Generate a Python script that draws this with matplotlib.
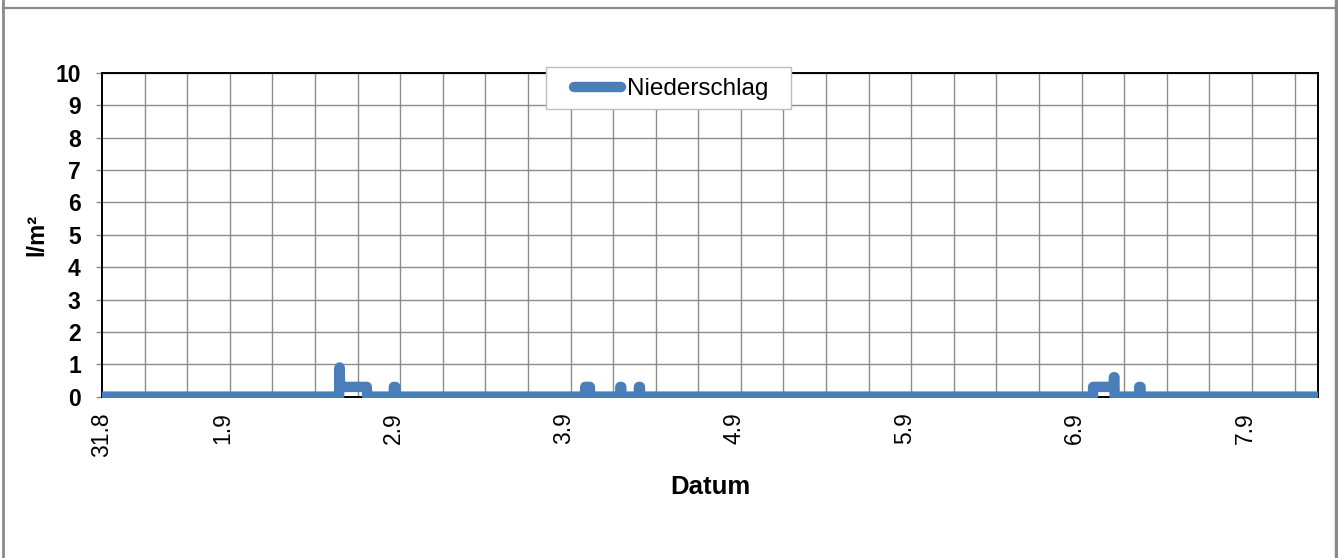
import matplotlib
matplotlib.use("Agg")
import matplotlib.pyplot as plt
from matplotlib.lines import Line2D
from matplotlib.patches import Rectangle
from matplotlib.transforms import Bbox, TransformedBbox

plt.rcParams['font.family'] = ['Liberation Sans', 'DejaVu Sans']

# ---- data (time in hours since 31.8 00:00, precipitation in l/m²) ----
times_h = [7.0,
           40.40, 40.47, 40.55, 44.30, 44.36,
           48.10, 48.12, 48.32, 48.34,
           75.05, 75.07, 75.73, 75.75,
           80.00, 80.02, 80.15, 80.17,
           82.62, 82.64, 82.78, 82.80,
           146.60, 146.62, 149.50, 149.55, 149.62, 149.65,
           153.10, 153.12, 153.30, 153.32,
           178.3]
rain = [0.0,
        0.0, 0.9, 0.3, 0.3, 0.0,
        0.0, 0.3, 0.3, 0.0,
        0.0, 0.3, 0.3, 0.0,
        0.0, 0.3, 0.3, 0.0,
        0.0, 0.3, 0.3, 0.0,
        0.0, 0.3, 0.3, 0.6, 0.6, 0.0,
        0.0, 0.3, 0.3, 0.0,
        0.0]

tick_pos_h = [7, 24, 48, 72, 96, 120, 144, 168]
tick_labels = ["31.8", "1.9", "2.9", "3.9", "4.9", "5.9", "6.9", "7.9"]
series_name = "Niederschlag"
x_title = "Datum"
y_title = "l/m²"

W, H = 1338, 558
fig = plt.figure(figsize=(W / 100, H / 100), dpi=100)
ax = fig.add_axes([102 / W, 1 - 396.6 / H, 1216 / W, (396.6 - 73) / H])

color = '#4a7ebb'
line, = ax.plot(times_h, rain, color=color, lw=7.5,
                solid_joinstyle='round', solid_capstyle='butt', zorder=3)
line.set_clip_box(TransformedBbox(Bbox([[0, -0.0045], [1, 1]]), ax.transAxes))

ax.set_xlim(7, 178.3)
ax.set_ylim(0, 10)

# major ticks: labels; minor ticks: gridlines every 6 hours
ax.set_xticks(tick_pos_h)
ax.set_xticklabels(tick_labels, rotation=90, va='top', ha='center')
grid_pos = [7 + 6 * k for k in range(29)]
ax.set_xticks(grid_pos, minor=True)
ax.tick_params(axis='x', which='both', length=0, pad=11, labelsize=16.5)
ax.set_yticks(range(0, 11))
ax.tick_params(axis='y', length=4.3, width=1, color='#8c8c8c', pad=11,
               labelsize=16.5)
for lab in ax.get_yticklabels():
    lab.set_fontweight('bold')

ax.grid(which='minor', axis='x', color='#8c8c8c', lw=1.0)
ax.grid(which='major', axis='y', color='#8c8c8c', lw=1.0)
ax.grid(which='major', axis='x', visible=False)
ax.set_axisbelow(True)

for s in ax.spines.values():
    s.set_color('black')
    s.set_linewidth(1.4)

ax.set_xlabel(x_title, fontsize=18.5, fontweight='bold')
ax.xaxis.set_label_coords(0.5, -(487 - 396.6) / (396.6 - 73))
ax.xaxis.label.set_va('center')
ax.set_ylabel(y_title, fontsize=17, fontweight='bold')
ax.yaxis.set_label_coords((37 - 102) / 1216, 0.5)
ax.yaxis.label.set_va('center')

# legend box
fig.add_artist(Rectangle((546 / W, 1 - 109.3 / H), (790.7 - 546) / W, (109.3 - 67.3) / H,
                         transform=fig.transFigure, facecolor='white',
                         edgecolor='#bdbdbd', lw=1.0, zorder=4))
leg = fig.legend([line], [series_name], loc='center left',
                 bbox_to_anchor=(574 / W, 1 - 89 / H), frameon=False,
                 borderpad=0, borderaxespad=0, handlelength=1.93,
                 handletextpad=0.25, fontsize=17.5)
leg.set_zorder(5)
for h in leg.legend_handles:
    h.set_solid_capstyle('round')

# outer chart frame
fc = '#8a8a8a'
fig.add_artist(Line2D([3 / W, 3 / W], [0, 1], transform=fig.transFigure, color=fc, lw=2))
fig.add_artist(Line2D([1336 / W, 1336 / W], [0, 1], transform=fig.transFigure, color=fc, lw=2.5))
fig.add_artist(Line2D([3 / W, 1336 / W], [1 - 8 / H, 1 - 8 / H], transform=fig.transFigure, color=fc, lw=1.6))

fig.savefig("out.png", dpi=100)
